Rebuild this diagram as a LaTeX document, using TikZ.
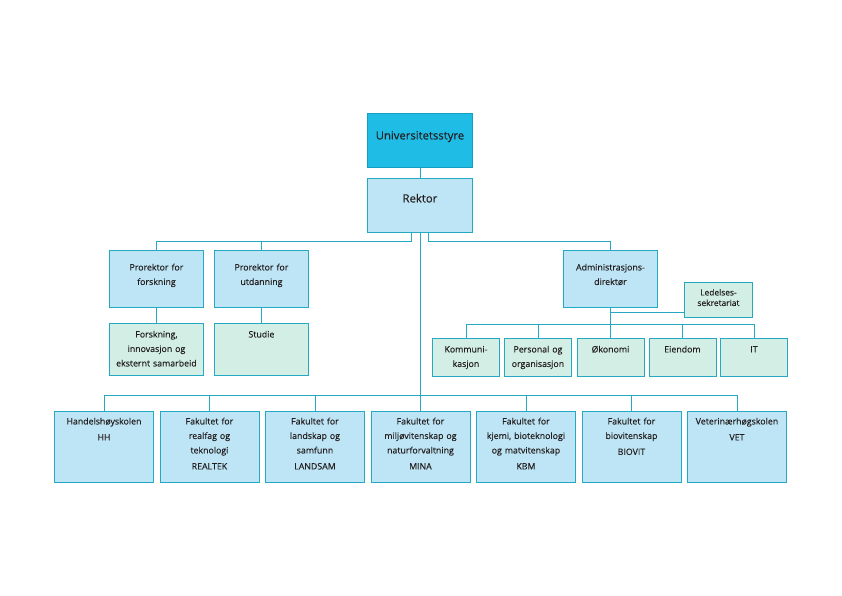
\documentclass[tikz,border=0pt]{standalone}
\usepackage{fontspec}
\setmainfont[FakeBold=0.2]{Open Sans}
\definecolor{boardfill}{HTML}{1FBCE6}
\definecolor{boardline}{HTML}{139FC4}
\definecolor{bluefill}{HTML}{BEE5F5}
\definecolor{greenfill}{HTML}{D3EEE5}
\definecolor{unitline}{HTML}{25A9C2}
\definecolor{ink}{HTML}{231F20}
\begin{document}
\begin{tikzpicture}[x=1pt, y=-1pt, line width=0.9pt,
  unit/.style={draw=unitline, fill=bluefill, text=ink, anchor=north west, inner sep=0pt,
    align=center, font=\fontsize{8.8}{14.5}\selectfont},
  section/.style={unit, fill=greenfill},
  top/.style={unit, text width=105pt, font=\fontsize{11.3}{14}\selectfont},
  prorektor/.style={unit, text width=94pt, text height=20pt, text depth=37pt},
  dept/.style={section, text width=94pt, text height=14pt, text depth=38pt},
  office/.style={section, text width=67pt, text height=14pt, text depth=24pt},
  faculty/.style={unit, text width=99pt, text height=13pt, text depth=58pt},
  link/.style={draw=unitline}]
\useasboundingbox[fill=white] (0,0) rectangle (842,595);
% top
\node[top, fill=boardfill, draw=boardline, text height=26pt, text depth=28pt] (styre) at (367,113) {Universitetsstyre};
\node[top, text height=24pt, text depth=30pt] (rektor) at (367,178) {Rektor};
\draw[link] (styre) -- (rektor);
% prorektorer
\node[prorektor] (pforsk) at (109,250) {Prorektor for\\forskning};
\node[prorektor] (putd) at (214,250) {Prorektor for\\utdanning};
\node[dept] (forsk) at (109,323) {Forskning,\\innovasjon og\\eksternt samarbeid};
\node[dept] (studie) at (214,323) {Studie};
\draw[link] ([xshift=-8.5pt]rektor.south) -- ++(0,9) -| (pforsk.north);
\draw[link] (putd.north) -- ++(0,-9);
\draw[link] (pforsk) -- (forsk);
\draw[link] (putd) -- (studie);
% administrasjon
\node[prorektor] (admin) at (563,250) {Administrasjons-\\direktør};
\node[section, text width=68pt, text height=13pt, text depth=22pt,
  font=\fontsize{8.4}{10.5}\selectfont] (ledelse) at (684,282) {Ledelses-\\sekretariat};
\draw[link] ([xshift=8.5pt]rektor.south) -- ++(0,9) -| (admin.north);
\node[office] (komm) at (432,338) {Kommuni-\\kasjon};
\node[office] (pers) at (504,338) {Personal og\\organisasjon};
\node[office] (oko) at (576.5,338) {Økonomi};
\node[office] (eien) at (648.5,338) {Eiendom};
\node[office] (it) at (720,338) {IT};
\coordinate (abus) at (0,324);
\draw[link] (admin.south) -- (admin.south |- abus);
\draw[link] ([yshift=5pt]ledelse.south west) coordinate (lj) -- (admin.south |- lj);
\draw[link] (komm.north) -- (komm.north |- abus) -- (it.north |- abus) -- (it.north);
\foreach \n in {pers,oko,eien}
  \draw[link] (\n.north) -- (\n.north |- abus);
% fakulteter
\node[faculty] (hh) at (54,411) {Handelshøyskolen\\[1.5pt]HH};
\node[faculty] (realtek) at (159.5,411) {Fakultet for\\realfag og\\teknologi\\[1.5pt]REALTEK};
\node[faculty] (landsam) at (265,411) {Fakultet for\\landskap og\\samfunn\\[1.5pt]LANDSAM};
\node[faculty] (mina) at (370.5,411) {Fakultet for\\miljøvitenskap og\\naturforvaltning\\[1.5pt]MINA};
\node[faculty] (kbm) at (476,411) {Fakultet for\\kjemi, bioteknologi\\og matvitenskap\\[1.5pt]KBM};
\node[faculty] (biovit) at (581.5,411) {Fakultet for\\biovitenskap\\[1.5pt]BIOVIT};
\node[faculty] (vet) at (687,411) {Veterinærhøgskolen\\[1.5pt]VET};
\coordinate (fbus) at (0,395);
\draw[link] (rektor.south) -- (rektor.south |- mina.north);
\draw[link] (hh.north) -- (hh.north |- fbus) -- (vet.north |- fbus) -- (vet.north);
\foreach \n in {realtek,landsam,kbm,biovit}
  \draw[link] (\n.north) -- (\n.north |- fbus);
\end{tikzpicture}
\end{document}
